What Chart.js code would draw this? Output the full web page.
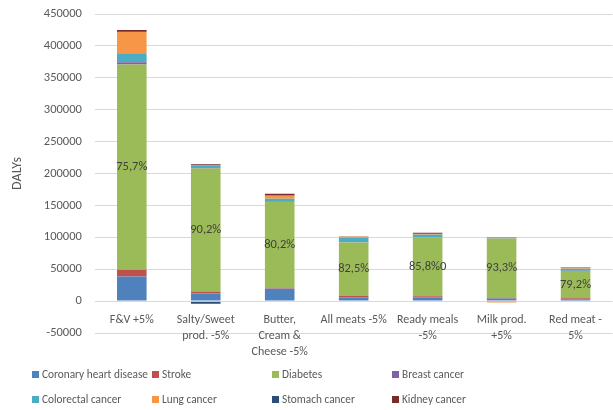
<!DOCTYPE html>
<html><head><meta charset="utf-8">
<script src="https://cdn.jsdelivr.net/npm/chart.js@4"></script>
<style>
html,body{margin:0;padding:0;background:#fff;}
#wrap{position:relative;width:613px;height:410px;overflow:hidden;}
#c{position:absolute;left:0;top:0;width:613px;height:410px;}
#legend{position:absolute;left:0;top:0;width:613px;height:410px;pointer-events:none;font-family:Carlito,Lato,sans-serif;font-size:11.3px;color:#595959;}
.li{position:absolute;display:flex;align-items:center;white-space:nowrap;height:16px;}
.sw{width:7px;height:7px;margin-right:3px;flex:none;}
</style></head>
<body>
<div id="wrap"><canvas id="c" width="613" height="410"></canvas><div id="legend"></div></div>
<script>
// ---- data ----
const categories = [["F&V +5%"], ["Salty/Sweet", "prod. -5%"], ["Butter,", "Cream &", "Cheese -5%"], ["All meats -5%"], ["Ready meals", "-5%"], ["Milk prod.", "+5%"], ["Red meat -", "5%"]];
const seriesNames = ["Coronary heart disease", "Stroke", "Diabetes", "Breast cancer", "Colorectal cancer", "Lung cancer", "Stomach cancer", "Kidney cancer"];
const chd        = [38700, 12000, 19500, 5500, 5500, 4000, 3000];
const stroke     = [10600, 3000, 800, 2300, 2200, 800, 1500];
const diabetes   = [321500, 193000, 135000, 84000, 91800, 93300, 42800];
const breast     = [3600, 500, 1000, 300, 300, 300, 300];
const colorectal = [14200, 4500, 4000, 7300, 4300, 1300, 3000];
const lung       = [33200, -1500, 5000, 2000, 800, -2000, 2000];
const stomach    = [500, -2500, 500, 200, 1000, 100, 200];
const kidney     = [2700, 1500, 2500, 200, 1100, 200, 700];
const shareLabels = ["75,7%", "90,2%", "80,2%", "82,5%", "85,8%0", "93,3%", "79,2%"];
const yMin = -50000, yMax = 450000, yStep = 50000;
const axisTitle = "DALYs";

// ---- styles ----
const colors = ["#4F81BD", "#C0504D", "#9BBB59", "#8064A2", "#4BACC6", "#F79646", "#2C4D75", "#772C2A"];
const FONT = "Carlito, Lato, sans-serif";
const values = [chd, stroke, diabetes, breast, colorectal, lung, stomach, kidney];

const datasets = values.map((v, i) => ({
  label: seriesNames[i],
  data: v,
  backgroundColor: colors[i],
  borderWidth: 0,
  stack: "s"
}));

const shareLabelPlugin = {
  id: "shareLabels",
  afterDatasetsDraw(chart) {
    const meta = chart.getDatasetMeta(2);
    const ctx = chart.ctx;
    ctx.save();
    ctx.font = "12.5px " + FONT;
    ctx.fillStyle = "#404040";
    ctx.textAlign = "center";
    ctx.textBaseline = "middle";
    meta.data.forEach((el, i) => {
      const p = el.getProps(["x", "y", "base"], true);
      ctx.fillText(shareLabels[i], p.x, (p.y + p.base) / 2);
    });
    ctx.restore();
  }
};

const noVPad = (scale) => { scale.paddingTop = 0; scale.paddingBottom = 0; };

const chart = new Chart(document.getElementById("c"), {
  type: "bar",
  data: { labels: categories, datasets },
  plugins: [shareLabelPlugin],
  options: {
    responsive: false,
    animation: false,
    devicePixelRatio: 1,
    layout: { padding: { left: 5, right: 0, top: 14, bottom: 77 } },
    plugins: { legend: { display: false }, tooltip: { enabled: false } },
    scales: {
      x: {
        stacked: true,
        position: { y: 0 },
        afterFit: noVPad,
        grid: { display: false, drawTicks: false },
        border: { display: false },
        ticks: { color: "#595959", font: { family: FONT, size: 12, lineHeight: 16 / 12 }, padding: 11, maxRotation: 0, autoSkip: false }
      },
      y: {
        stacked: true,
        min: yMin, max: yMax,
        afterFit: noVPad,
        grid: { color: "#D9D9D9", lineWidth: 1, drawTicks: false },
        border: { display: false },
        ticks: { stepSize: yStep, color: "#595959", font: { family: FONT, size: 12.5 }, padding: 13, autoSkip: false, callback: v => String(v) },
        title: { display: true, text: axisTitle, color: "#595959", font: { family: FONT, size: 14 }, padding: { top: 4, bottom: 5 } }
      }
    },
    datasets: { bar: { categoryPercentage: 1, barPercentage: 0.4 } }
  }
});

// ---- legend (built from datasets) ----
const leg = document.getElementById("legend");
chart.data.datasets.forEach((ds, i) => {
  const col = i % 4, row = Math.floor(i / 4);
  const d = document.createElement("div");
  d.className = "li";
  d.style.left = (32 + col * 120) + "px";
  d.style.top = (366 + row * 25) + "px";
  const sw = document.createElement("span");
  sw.className = "sw";
  sw.style.background = ds.backgroundColor;
  const t = document.createElement("span");
  t.textContent = ds.label;
  d.appendChild(sw); d.appendChild(t);
  leg.appendChild(d);
});
</script>
</body></html>
